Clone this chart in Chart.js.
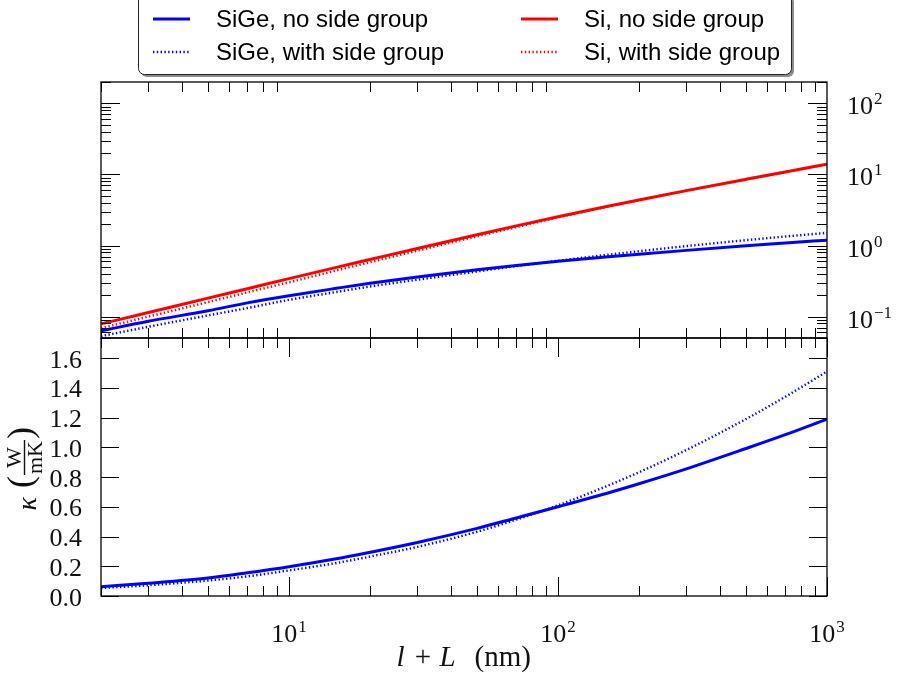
<!DOCTYPE html>
<html>
<head>
<meta charset="utf-8">
<script src="https://cdn.jsdelivr.net/npm/chart.js@4.4.1/dist/chart.umd.min.js"></script>
<style>
html,body{margin:0;padding:0;background:#fff;}
#wrap{position:relative;width:908px;height:678px;overflow:hidden;background:#fff;}
#cBot{position:absolute;left:0;top:300px;z-index:1;}
#cTop{position:absolute;left:0;top:0;z-index:2;}
</style>
</head>
<body>
<div id="wrap">
<canvas id="cTop" width="908" height="345"></canvas>
<canvas id="cBot" width="908" height="378"></canvas>
</div>
<script>
// ---------------- data ----------------
const lengths = [2, 3, 5, 7, 10, 15, 20, 30, 50, 70, 100, 150, 200, 300, 500, 700, 1000];
const sigeNoSide   = [0.063, 0.086, 0.121, 0.156, 0.197, 0.25, 0.294, 0.36, 0.455, 0.525, 0.60, 0.688, 0.755, 0.855, 0.992, 1.085, 1.19];
const sigeWithSide = [0.053, 0.072, 0.104, 0.132, 0.172, 0.222, 0.265, 0.33, 0.432, 0.514, 0.61, 0.735, 0.832, 0.982, 1.19, 1.34, 1.51];
const siNoSide     = [0.079, 0.114, 0.182, 0.247, 0.342, 0.493, 0.636, 0.91, 1.42, 1.89, 2.54, 3.51, 4.38, 5.92, 8.55, 10.85, 13.93];
const siWithSide   = [0.0687, 0.0998, 0.160, 0.219, 0.304, 0.446, 0.582, 0.846, 1.35, 1.82, 2.49, 3.47, 4.36, 5.92, 8.55, 10.85, 13.93];

const seriesLabels = ['SiGe, no side group', 'SiGe, with side group', 'Si, no side group', 'Si, with side group'];

const xRange = [2, 1000];
const logYRange = [0.05, 200];
const linYRange = [0, 1.735];

const xTickValues = [10, 100, 1000];
const xTickLabels = ['10^1', '10^2', '10^3'];
const logYTickValues = [0.1, 1, 10, 100];
const logYTickLabels = ['10^\u22121', '10^0', '10^1', '10^2'];
const linYTickValues = [0, 0.2, 0.4, 0.6, 0.8, 1.0, 1.2, 1.4, 1.6];
const linYTickLabels = ['0.0', '0.2', '0.4', '0.6', '0.8', '1.0', '1.2', '1.4', '1.6'];

// ---------------- helpers ----------------
const SERIF = '"Liberation Serif", "DejaVu Serif", serif';
const SANS = '"Liberation Sans", Arial, sans-serif';
const BLUE = '#0000ff', RED = '#ff0000';

function pts(ys) { return lengths.map((x, i) => ({x: x, y: ys[i]})); }

function lineDs(label, ys, color, dotted, order) {
  return {
    label: label, data: pts(ys), borderColor: color, backgroundColor: color,
    borderWidth: dotted ? 2.4 : 3, borderDash: dotted ? [1.4, 2.4] : [],
    pointRadius: 0, pointHoverRadius: 0, fill: false,
    cubicInterpolationMode: 'monotone', order: order
  };
}

function logTicks(min, max) {
  const out = [];
  for (let e = Math.floor(Math.log10(min)); e <= Math.ceil(Math.log10(max)); e++) {
    for (let m = 1; m <= 9; m++) {
      const v = m * Math.pow(10, e);
      if (v >= min * 0.999 && v <= max * 1.001) out.push({v: v, major: m === 1});
    }
  }
  return out;
}

function drawPow(ctx, label, x, y, align) {
  const parts = label.split('^');
  ctx.font = '26px ' + SERIF;
  const wb = ctx.measureText(parts[0]).width;
  ctx.font = '17px ' + SERIF;
  const we = ctx.measureText(parts[1]).width;
  const total = wb + we + 1;
  let sx = align === 'center' ? x - total / 2 : x;
  ctx.textAlign = 'left';
  ctx.textBaseline = 'alphabetic';
  ctx.font = '26px ' + SERIF;
  ctx.fillText(parts[0], sx, y);
  ctx.font = '17px ' + SERIF;
  ctx.fillText(parts[1], sx + wb + 1, y - 10);
}

function vTick(ctx, x, y0, len) { ctx.beginPath(); ctx.moveTo(x, y0); ctx.lineTo(x, y0 + len); ctx.stroke(); }
function hTick(ctx, y, x0, len) { ctx.beginPath(); ctx.moveTo(x0, y); ctx.lineTo(x0 + len, y); ctx.stroke(); }

function drawFrame(ctx, a) {
  ctx.strokeStyle = '#000';
  ctx.lineWidth = 1.3;
  ctx.strokeRect(a.left, a.top, a.right - a.left, a.bottom - a.top);
}

// ---------------- top panel plugin ----------------
const topPanel = {
  id: 'topPanel',
  afterDraw(chart) {
    const ctx = chart.ctx, a = chart.chartArea;
    const xs = chart.scales.x, ys = chart.scales.y;
    ctx.save();
    ctx.strokeStyle = '#000';
    ctx.lineWidth = 1;
    // x ticks: minor only, both edges
    logTicks(xRange[0], xRange[1]).forEach(t => {
      if (t.major) return;
      const px = Math.round(xs.getPixelForValue(t.v)) + 0.5;
      vTick(ctx, px, a.top, 10);
      vTick(ctx, px, a.bottom, -10);
    });
    // y ticks both sides
    logTicks(logYRange[0], logYRange[1]).forEach(t => {
      const py = Math.round(ys.getPixelForValue(t.v)) + 0.5;
      const len = t.major ? 19 : 10;
      hTick(ctx, py, a.left, len);
      hTick(ctx, py, a.right, -len);
    });
    drawFrame(ctx, a);
    // right labels
    ctx.fillStyle = '#111';
    logYTickValues.forEach((v, i) => {
      const py = ys.getPixelForValue(v);
      drawPow(ctx, logYTickLabels[i], a.right + 20, py + 11, 'left');
    });
    // legend
    const bx = 138.5, by = -6, bw = 653, bh = 80.5;
    ctx.fillStyle = 'rgba(0,0,0,0.45)';
    ctx.beginPath(); ctx.roundRect(bx + 2.5, by + 2.5, bw, bh, 6); ctx.fill();
    ctx.fillStyle = '#fff';
    ctx.beginPath(); ctx.roundRect(bx, by, bw, bh, 6); ctx.fill();
    ctx.strokeStyle = '#222'; ctx.lineWidth = 1;
    ctx.stroke();
    const cols = [153, 521], rows = [19, 52];
    chart.data.datasets.forEach((ds, i) => {
      const cx = cols[Math.floor(i / 2)], cy = rows[i % 2];
      ctx.strokeStyle = ds.borderColor;
      ctx.lineWidth = ds.borderWidth;
      ctx.setLineDash(ds.borderDash || []);
      ctx.beginPath(); ctx.moveTo(cx, cy); ctx.lineTo(cx + 37, cy); ctx.stroke();
      ctx.setLineDash([]);
      ctx.fillStyle = '#000';
      ctx.font = '24px ' + SANS;
      ctx.textAlign = 'left';
      ctx.textBaseline = 'middle';
      ctx.fillText(ds.label, cx + 63, cy + 1);
    });
    ctx.restore();
  }
};

// ---------------- bottom panel plugin ----------------
const botPanel = {
  id: 'botPanel',
  afterDraw(chart) {
    const ctx = chart.ctx, a = chart.chartArea;
    const xs = chart.scales.x, ys = chart.scales.y;
    ctx.save();
    ctx.strokeStyle = '#000';
    ctx.lineWidth = 1;
    logTicks(xRange[0], xRange[1]).forEach(t => {
      const px = Math.round(xs.getPixelForValue(t.v)) + 0.5;
      const len = t.major ? 19 : 10;
      vTick(ctx, px, a.top, len);
      vTick(ctx, px, a.bottom, -len);
    });
    linYTickValues.forEach(v => {
      const py = Math.round(ys.getPixelForValue(v)) + 0.5;
      hTick(ctx, py, a.left, 18);
      hTick(ctx, py, a.right, -18);
    });
    drawFrame(ctx, a);
    ctx.fillStyle = '#111';
    // left tick labels
    ctx.font = '26px ' + SERIF;
    ctx.textAlign = 'right';
    ctx.textBaseline = 'alphabetic';
    linYTickValues.forEach((v, i) => {
      const py = ys.getPixelForValue(v);
      ctx.fillText(linYTickLabels[i], a.left - 19, py + 9.5);
    });
    // x tick labels
    xTickValues.forEach((v, i) => {
      const px = xs.getPixelForValue(v);
      drawPow(ctx, xTickLabels[i], px, a.bottom + 46, 'center');
    });
    // x title: l + L (nm)
    const mid = (a.left + a.right) / 2 - 1.5;
    const base = a.bottom + 70;
    ctx.textAlign = 'left';
    ctx.font = 'italic 29px ' + SERIF;
    ctx.fillText('l', mid - 66, base);
    ctx.font = '29px ' + SERIF;
    ctx.textAlign = 'center';
    ctx.fillText('+', mid - 39.5, base);
    ctx.textAlign = 'left';
    ctx.font = 'italic 29px ' + SERIF;
    ctx.fillText('L', mid - 23, base);
    ctx.font = '29px ' + SERIF;
    ctx.fillText('(nm)', mid + 12, base);
    // y title: kappa (W / mK)
    const cx = 24, cy = (ys.getPixelForValue(linYRange[0]) + ys.getPixelForValue(linYRange[1])) / 2 + 8;
    ctx.translate(cx, cy);
    ctx.rotate(-Math.PI / 2);
    ctx.textAlign = 'left';
    ctx.font = 'italic 28px ' + SERIF;
    const kw = ctx.measureText('\u03ba').width;
    ctx.fillText('\u03ba', -22 - kw, 12);
    ctx.font = '36px ' + SERIF;
    ctx.fillText('(', -13, 8);
    ctx.font = '22px ' + SERIF;
    const ww = ctx.measureText('W').width;
    const dw = ctx.measureText('mK').width;
    const fw = Math.max(ww, dw) + 2;
    ctx.fillText('W', fw / 2 - ww / 2, -3);
    ctx.fillRect(0, -0.2, fw, 1.4);
    ctx.fillText('mK', fw / 2 - dw / 2, 18);
    ctx.font = '36px ' + SERIF;
    ctx.fillText(')', fw + 1, 8);
    ctx.restore();
  }
};

const commonOpts = (yType, yRange, pad) => ({
  responsive: false,
  animation: false,
  events: [],
  layout: {padding: pad},
  plugins: {legend: {display: false}, tooltip: {enabled: false}},
  scales: {
    x: {type: 'logarithmic', min: xRange[0], max: xRange[1], display: false},
    y: {type: yType, min: yRange[0], max: yRange[1], display: false}
  }
});

new Chart(document.getElementById('cTop'), {
  type: 'line',
  data: {
    datasets: [
      lineDs(seriesLabels[0], sigeNoSide, BLUE, false, 4),
      lineDs(seriesLabels[1], sigeWithSide, BLUE, true, 3),
      lineDs(seriesLabels[2], siNoSide, RED, false, 2),
      lineDs(seriesLabels[3], siWithSide, RED, true, 1)
    ]
  },
  options: commonOpts('logarithmic', logYRange, {left: 101, right: 81, top: 82, bottom: 7}),
  plugins: [topPanel]
});

new Chart(document.getElementById('cBot'), {
  type: 'line',
  data: {
    datasets: [
      lineDs(seriesLabels[0], sigeNoSide, BLUE, false, 2),
      lineDs(seriesLabels[1], sigeWithSide, BLUE, true, 1)
    ]
  },
  options: commonOpts('linear', linYRange, {left: 101, right: 81, top: 38, bottom: 82}),
  plugins: [botPanel]
});
</script>
</body>
</html>
